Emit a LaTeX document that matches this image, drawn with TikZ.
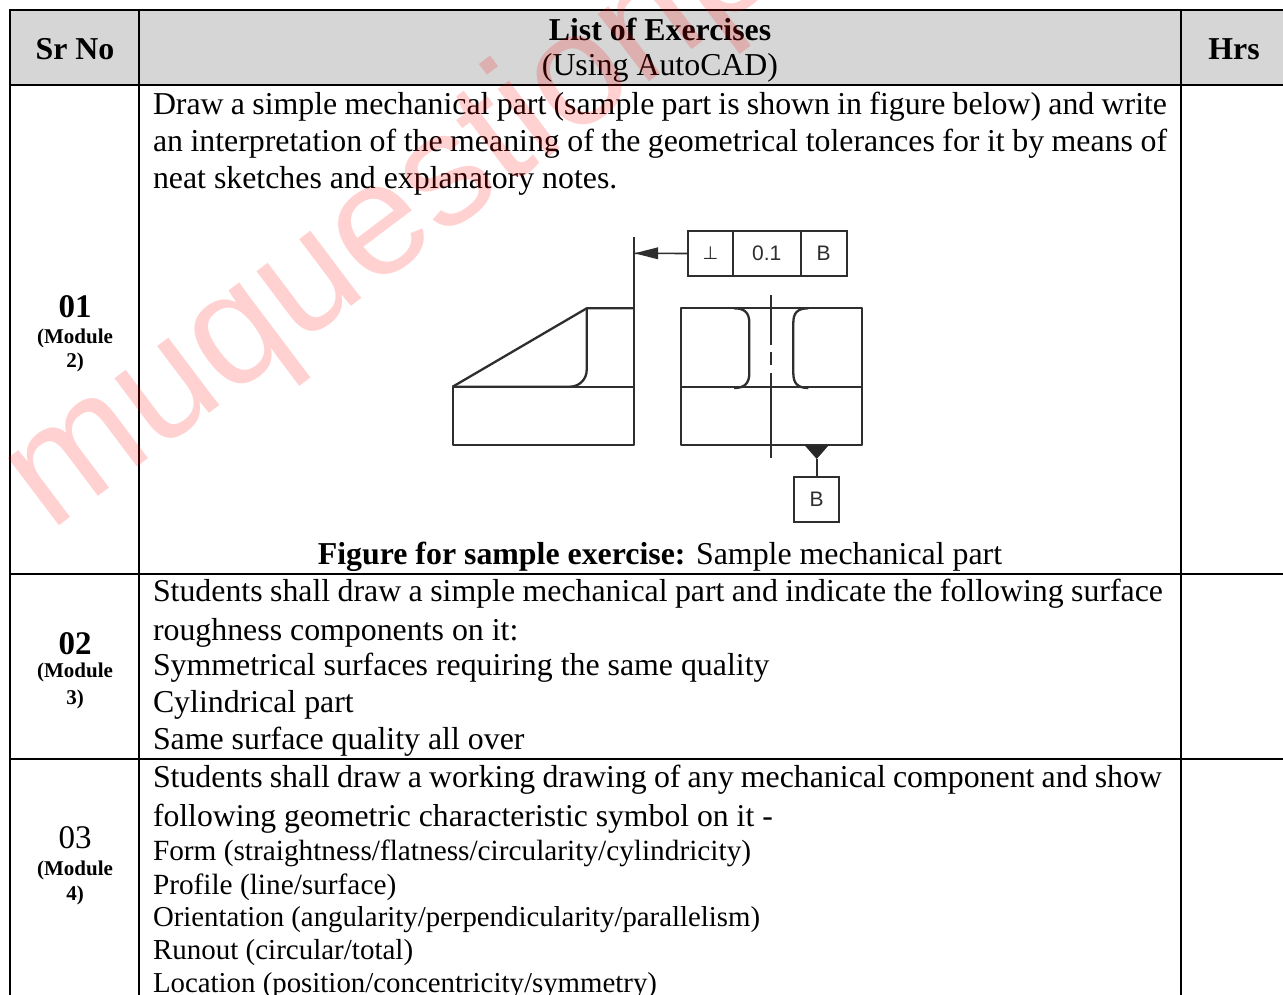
\documentclass[tikz,border=0pt]{standalone}
\usepackage{fontspec}
\setmainfont{Liberation Serif}
\newfontfamily\wmfont{Liberation Sans}
\newfontfamily\figfont{Liberation Sans}
\newfontfamily\symfont{DejaVu Sans}
\definecolor{headgrey}{HTML}{D6D6D6}
\definecolor{figline}{HTML}{2E2E2E}
\newcommand{\fsbody}{\fontsize{31.85}{36}\selectfont}
\newcommand{\fssmall}{\fontsize{29.3}{33}\selectfont}
\newcommand{\fsmod}{\fontsize{21}{24}\selectfont}
\newcommand{\fsnum}{\fontsize{33}{36}\selectfont}
\tikzset{
  every node/.style={inner sep=0pt,outer sep=0pt},
  grid/.style={line width=2.4pt,black},
  bodyline/.style={anchor=base west,font=\fsbody},
  smallline/.style={anchor=base west,font=\fssmall},
  headc/.style={anchor=base,font=\fsbody\bfseries},
  numc/.style={anchor=base,font=\fsnum\bfseries},
  modc/.style={anchor=base,font=\fsmod\bfseries},
  part/.style={line width=2.3pt,figline,line join=round},
  thinp/.style={line width=1.6pt,figline},
  figtxt/.style={font=\figfont\fontsize{21}{24}\selectfont,text=figline},
  framebox/.style={draw=figline,line width=1.8pt,minimum height=45pt,figtxt},
}
\begin{document}
\begin{tikzpicture}[x=1pt,y=-1pt]
\useasboundingbox (0,0) rectangle (1283,995);
\fill[white] (0,0) rectangle (1283,995);
\fill[headgrey] (10,10) rectangle (1283,85);
% grid
\draw[grid] (10,995) -- (10,10) -- (1283,10);
\draw[grid] (10,85) -- (1283,85);
\draw[grid] (10,574) -- (1283,574);
\draw[grid] (10,759) -- (1283,759);
\draw[grid] (139,10) -- (139,995);
\draw[grid] (1181,10) -- (1181,995);
% header
\node[headc] (hsr) at (75,60) {Sr No};
\node[headc] (hlist) at (660,41) {List of Exercises};
\node[anchor=base,font=\fsbody] (husing) at (660,76) {(Using AutoCAD)};
\node[headc] (hhrs) at (1234,60) {Hrs};
% left column
\node[numc] (n1) at (75,317) {01};
\node[modc] (m1a) at (75,343) {(Module};
\node[modc] (m1b) at (75,367) {2)};
\node[numc] (n2) at (75,654) {02};
\node[modc] (m2a) at (75,677) {(Module};
\node[modc] (m2b) at (75,704) {3)};
\node[anchor=base,font=\fsnum] (n3) at (75,848) {03};
\node[modc] (m3a) at (75,875) {(Module};
\node[modc] (m3b) at (75,900) {4)};
% row 1 text
\node[bodyline] (r1a) at (153,115) {\makebox[1014pt][s]{Draw a simple mechanical part (sample part is shown in figure below) and write}};
\node[bodyline] (r1b) at (153,152) {\makebox[1014pt][s]{an interpretation of the meaning of the geometrical tolerances for it by means of}};
\node[bodyline] (r1c) at (153,189) {neat sketches and explanatory notes.};
\node[anchor=base,font=\fsbody] (cap) at (660,564) {\textbf{Figure for sample exercise:} Sample mechanical part};
% row 2 text
\node[bodyline] (r2a) at (153,601) {\makebox[1010pt][s]{Students shall draw a simple mechanical part and indicate the following surface}};
\node[bodyline] (r2b) at (153,640) {roughness components on it:};
\node[bodyline] (r2c) at (153,675) {Symmetrical surfaces requiring the same quality};
\node[bodyline] (r2d) at (153,712) {Cylindrical part};
\node[bodyline] (r2e) at (153,749) {Same surface quality all over};
% row 3 text
\node[bodyline] (r3a) at (153,787) {\makebox[1009pt][s]{Students shall draw a working drawing of any mechanical component and show}};
\node[bodyline,font=\fontsize{31.7}{36}\selectfont] (r3b) at (153,826) {following geometric characteristic symbol on it -};
\node[smallline] (r3c) at (153,860) {Form (straightness/flatness/circularity/cylindricity)};
\node[smallline] (r3d) at (153,894) {Profile (line/surface)};
\node[smallline,font=\fontsize{28.8}{33}\selectfont] (r3e) at (153,926) {Orientation (angularity/perpendicularity/parallelism)};
\node[smallline,font=\fontsize{29}{33}\selectfont] (r3f) at (153,959) {Runout (circular/total)};
\node[smallline,font=\fontsize{28.85}{33}\selectfont] (r3g) at (153,992) {Location (position/concentricity/symmetry)};
% figure: left view
\draw[part] (452.7,386.7) rectangle (634,445);
\draw[part] (452.7,386.7) -- (586.7,308.3) -- (634,308.3);
\draw[part] (452.7,386.7) -- (570,386.7) arc[start angle=90,end angle=0,radius=16.7] -- (586.7,308.3);
\coordinate (ext) at (634,253.3);
\draw[part] (634,386.7) -- (634,237);
% figure: right view
\draw[part] (681,308.3) rectangle (861.7,445);
\draw[part] (681,387) -- (861.7,387);
\draw[part] (734,308.3) .. controls (745,308.3) and (749.3,313) .. (749.3,323) -- (749.3,373) .. controls (749.3,383) and (745,388) .. (734,388);
\draw[part] (808.3,308.3) .. controls (797.3,308.3) and (793.3,313) .. (793.3,323) -- (793.3,373) .. controls (793.3,383) and (797.3,388) .. (808.3,388);
\draw[thinp] (771,295) -- (771,345);
\draw[thinp] (771,352) -- (771,365);
\draw[thinp] (771,373) -- (771,458);
% feature control frame
\node[framebox,minimum width=44.4pt] (f1) at (710.5,253.5) {\symfont\fontsize{18}{20}\selectfont ⊥};
\node[framebox,minimum width=68pt] (f2) at (766.7,253.5) {0.1};
\node[framebox,minimum width=46pt] (f3) at (823.7,253.5) {B};
\fill[figline] (634.5,253.3) -- (658,247.3) -- (658,259.3) -- cycle;
\draw[thinp] (f1.west) -- (ext);
% datum
\node[framebox,minimum width=45.3pt] (dat) at (816.7,499.2) {B};
\coordinate (tri) at (816.7,459);
\fill[black!85] (805,445.7) -- (828.3,445.7) -- (tri) -- cycle;
\draw[thinp] (tri) -- (dat.north);
% watermark
\node[anchor=base west,rotate=37,text=red,text opacity=0.18,font=\wmfont\fontsize{160}{160}\selectfont] (wm) at (50.8,532.4) {muquestionpapers};
\end{tikzpicture}
\end{document}
